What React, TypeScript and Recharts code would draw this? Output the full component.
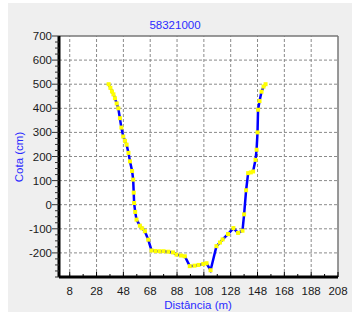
import { LineChart, Line, XAxis, YAxis, ReferenceLine } from 'recharts'

// distância (m) and cota (cm)
const distancia = [
  37, 38.3, 39.5, 40.6, 41.7, 43, 44.2, 45.4, 46.5, 47.9, 49.2, 50.4, 51.8, 52.9, 54.5, 55.3, 55.7, 56,
  56.8, 57.8, 60.3, 62, 64, 66.5, 69, 72, 75, 78, 81.5, 85, 87.6, 91, 93.8, 97.5, 101, 104, 107.5, 110,
  113, 117.4, 120, 122, 126, 130, 133.5, 136.8, 138, 139.5, 141, 143, 144.7, 146.5, 147.3, 148, 148.4,
  149.5, 151, 152.5, 154,
]
const cota = [
  500, 485, 470, 458, 442, 420, 400, 359, 320, 283, 265, 249, 215, 180, 140, 104, 50, 7,
  -30, -62, -87, -98, -110, -145, -190, -192, -193, -193, -195, -198, -207, -211, -214, -255, -253, -250, -246, -243,
  -272, -172, -157, -144, -122, -97, -117, -108, -40, 60, 131, 134, 138, 186, 228, 300, 394,
  430, 469, 490, 500,
]

const xMajor = [8, 28, 48, 68, 88, 108, 128, 148, 168, 188, 208]
const xMinor = [18, 38, 58, 78, 98, 118, 138, 158, 178, 198]
const yMajor = [-200, -100, 0, 100, 200, 300, 400, 500, 600, 700]
const yMinor = [-300, -275, -250, -225, -175, -150, -125, -75, -50, -25, 25, 50, 75, 125, 150, 175,
  225, 250, 275, 325, 350, 375, 425, 450, 475, 525, 550, 575, 625, 650, 675]

const data = distancia.map((d, i) => ({ dist: d, cota: cota[i] }))
const xTicks = [...xMajor, ...xMinor].sort((a, b) => a - b)
const yTicks = [...yMajor, ...yMinor].sort((a, b) => a - b)

const font = '"Liberation Sans", Arial, sans-serif'
const blue = '#2b2bff'

function XTick(props: any) {
  const { x, y, payload } = props
  const major = xMajor.includes(payload.value)
  return (
    <g>
      <line x1={x} y1={y} x2={x} y2={y - (major ? 5 : 3)} stroke="#000" strokeWidth={1} />
      {major && (
        <text x={x} y={y + 18} textAnchor="middle" fontSize={11.5} fontFamily={font} fill="#1a1a1a">
          {payload.value}
        </text>
      )}
    </g>
  )
}

function YTick(props: any) {
  const { x, y, payload } = props
  const major = yMajor.includes(payload.value)
  return (
    <g>
      <line x1={x} y1={y} x2={x - (major ? 7 : 4)} y2={y} stroke="#333" strokeWidth={1} />
      {major && (
        <text x={x - 7} y={y + 4} textAnchor="end" fontSize={11.5} fontFamily={font} fill="#1a1a1a">
          {payload.value}
        </text>
      )}
    </g>
  )
}

function Marker(props: any) {
  const { cx, cy } = props
  if (cx == null || cy == null) return null
  return <rect x={cx - 2} y={cy - 2} width={4} height={4} fill="#ffff00" />
}

export default function App() {
  return (
    <div style={{ position: 'absolute', left: 0, top: 0, width: 354, height: 334, background: '#fff' }}>
      <div style={{ position: 'absolute', left: 8, top: 3, width: 344, height: 309, background: '#efefef' }} />
      <div style={{ position: 'absolute', left: 59, top: 36, width: 279, height: 241, background: '#fff' }} />
      <div style={{ position: 'absolute', left: 0, top: 0 }}>
        <LineChart width={354} height={334} data={data} margin={{ top: 36, right: 16, left: 0, bottom: 0 }}>
          {xMajor.slice(0, -1).map((v) => (
            <ReferenceLine key={'gx' + v} x={v} stroke="#8a8a8a" strokeDasharray="3 2" />
          ))}
          {yMajor.slice(0, -1).map((v) => (
            <ReferenceLine key={'gy' + v} y={v} stroke="#8a8a8a" strokeDasharray="3 2" />
          ))}
          <ReferenceLine y={700} stroke="#777" strokeWidth={1.5} />
          <ReferenceLine x={208} stroke="#777" strokeWidth={1.5} />
          <XAxis
            dataKey="dist"
            type="number"
            domain={[0, 208]}
            ticks={xTicks}
            interval={0}
            height={57}
            tickSize={0}
            tickMargin={0}
            tickLine={false}
            tick={<XTick />}
            axisLine={{ stroke: '#000', strokeWidth: 3 }}
          />
          <YAxis
            type="number"
            domain={[-300, 700]}
            ticks={yTicks}
            interval={0}
            width={59}
            tickSize={0}
            tickMargin={0}
            tickLine={false}
            tick={<YTick />}
            axisLine={{ stroke: '#000', strokeWidth: 3 }}
          />
          <Line
            type="linear"
            dataKey="cota"
            stroke="#0000ff"
            strokeWidth={2.5}
            dot={<Marker />}
            activeDot={false}
            isAnimationActive={false}
          />
        </LineChart>
      </div>
      <div style={{ position: 'absolute', left: 175, top: 25, fontFamily: font, fontSize: 11.5, color: blue, transform: 'translate(-50%, -50%)', whiteSpace: 'nowrap' }}>
        58321000
      </div>
      <div style={{ position: 'absolute', left: 19, top: 157, fontFamily: font, fontSize: 11.5, color: blue, transform: 'translate(-50%, -50%) rotate(-90deg)', whiteSpace: 'nowrap' }}>
        Cota (cm)
      </div>
      <div style={{ position: 'absolute', left: 198, top: 305, fontFamily: font, fontSize: 11.5, color: blue, transform: 'translate(-50%, -50%)', whiteSpace: 'nowrap' }}>
        Distância (m)
      </div>
    </div>
  )
}
